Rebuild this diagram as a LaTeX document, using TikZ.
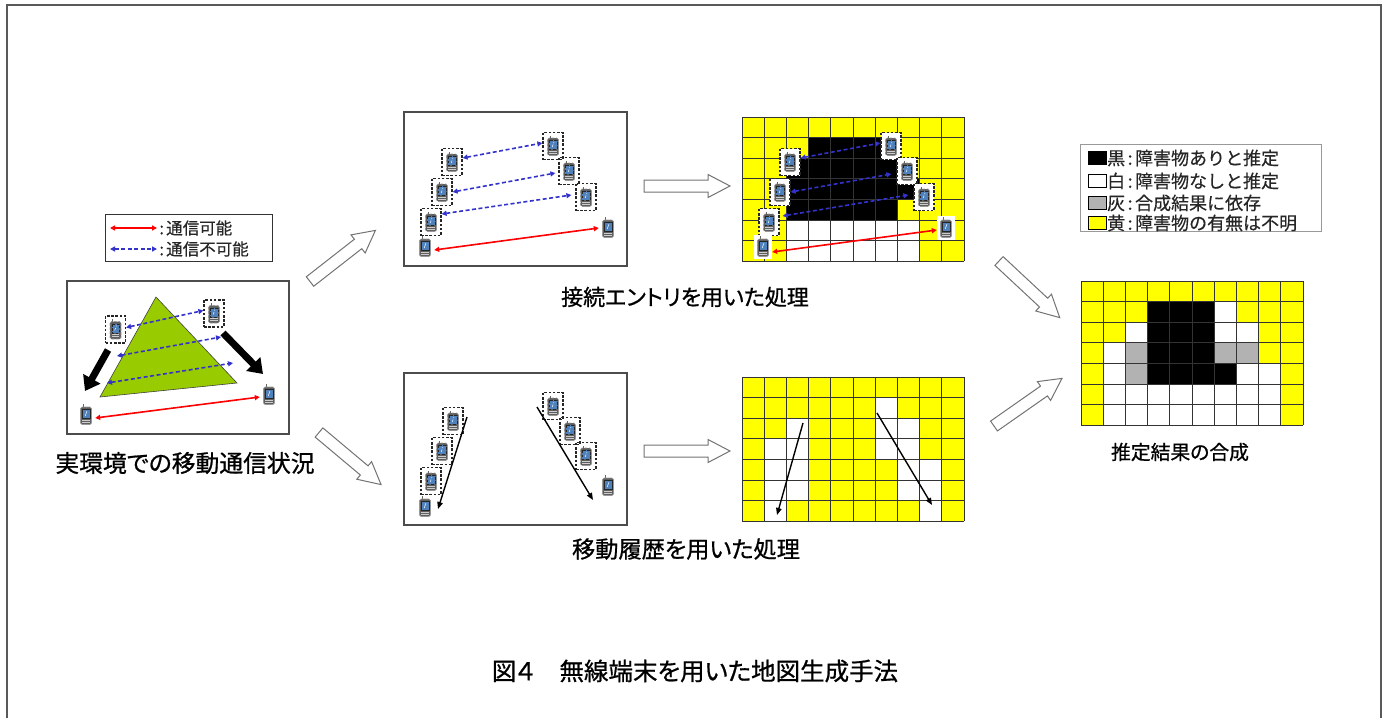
\documentclass[tikz,border=0pt]{standalone}
\usepackage{fontspec}
\setmainfont{Noto Sans CJK JP}
\newfontfamily\capfont[RawFeature=+palt, FakeBold=0.8, AutoFakeBold=0.8]{Noto Sans CJK JP}
\newfontfamily\legfont[FakeBold=0.4, AutoFakeBold=0.4]{Noto Sans CJK JP}
\usetikzlibrary{arrows.meta}

\definecolor{cY}{RGB}{255,255,0}
\definecolor{cB}{RGB}{0,0,0}
\definecolor{cW}{RGB}{255,255,255}
\definecolor{cG}{RGB}{178,178,178}
\definecolor{obst}{RGB}{153,204,0}
\definecolor{ncblue}{RGB}{51,51,204}
\definecolor{cred}{RGB}{255,0,0}
\definecolor{scr}{RGB}{79,129,189}
\definecolor{pbody}{RGB}{95,95,95}

% occupancy map: origin x, origin y, rows of cell codes (Y/B/W/G)
\newcommand\mapgrid[3]{%
  \foreach \cells [count=\rw from 0] in {#3} {%
    \foreach \cl [count=\kk from 0] in \cells {%
      \fill[fill=c\cl] ({#1+\kk*22.2},{#2+\rw*20.6}) rectangle ++(22.2,20.6);
    }%
  }%
  \foreach \kk in {0,...,10} \draw[gridline] ({#1+\kk*22.2},#2) -- ++(0,144.2);
  \foreach \rw in {0,...,7} \draw[gridline] (#1,{#2+\rw*20.6}) -- ++(222,0);
}

% hollow block arrow: tail x, tail y, angle, length
\newcommand\blockarrow[4]{%
  \begin{scope}[shift={(#1,#2)},rotate=#3]
    \draw[hollow] (0,-6) -- ({#4-22},-6) -- ({#4-22},-11.5) -- (#4,0)
      -- ({#4-22},11.5) -- ({#4-22},6) -- (0,6) -- cycle;
  \end{scope}%
}

\newcommand\lcolon{\makebox[0.55em]{:}}

\tikzset{
  phoneicon/.style={path picture={%
    \begin{scope}[shift={(path picture bounding box.center)}]
      \draw[black!60, line width=0.7pt] (-3,-7.5) -- (-3,-11);
      \filldraw[draw=black!40, fill=pbody, line width=0.6pt, rounded corners=1.5pt] (-5.5,-8) rectangle (5.5,9.5);
      \filldraw[draw=black!85, fill=scr, line width=0.4pt] (-3.8,-5.6) rectangle (3.8,3.2);
      \draw[white, line width=0.5pt] (-0.8,1) -- (0.9,-3.8);
      \fill[black!20] (-3.8,4.8) rectangle (3.8,5.8);
      \fill[black!20] (-3.8,6.8) rectangle (3.8,7.8);
    \end{scope}}},
  ph/.style={rectangle, inner sep=0pt, minimum width=20pt, minimum height=27pt, phoneicon},
  phd/.style={ph, draw=black!85, line width=1.2pt, dash pattern=on 2.6pt off 1.6pt},
  php/.style={ph, minimum width=18pt, minimum height=24pt},
  onmap/.style={fill=white},
  nocomm/.style={{Triangle[length=5pt,width=5pt]}-{Triangle[length=5pt,width=5pt]},
    draw=ncblue, line width=1.6pt, dash pattern=on 4pt off 2.5pt},
  comm/.style={{Triangle[length=5pt,width=5pt]}-{Triangle[length=5pt,width=5pt]},
    draw=cred, line width=1.6pt},
  movearrow/.style={-{Triangle[length=7pt,width=5.5pt]}, draw=black, line width=1.4pt},
  heavyarrow/.style={-{Triangle[length=14pt,width=19pt]}, draw=black, line width=7pt},
  panel/.style={draw=black!70, line width=1.1pt},
  outerframe/.style={draw=black!65, line width=1.5pt},
  gridline/.style={draw=black!80, line width=0.9pt},
  hollow/.style={draw=black!55, fill=white, line width=1pt, line join=miter},
  legbox/.style={draw=black!80, line width=1pt},
  legbox2/.style={draw=black!40, line width=1pt},
  swatch/.style={rectangle, draw=black, line width=0.8pt, inner sep=0pt, minimum width=18pt, minimum height=13pt},
  legtext/.style={inner sep=0pt, text=black!85, font=\legfont\fontsize{16.5}{18}\selectfont},
  legtextb/.style={inner sep=0pt, text=black!85, font=\legfont\fontsize{18}{20}\selectfont},
  captext/.style={inner sep=0pt, font=\capfont\fontsize{#1}{#1}\selectfont},
}

\begin{document}
\begin{tikzpicture}[x=1pt,y=-1pt]
\useasboundingbox (0,0) rectangle (1387,718);

% outer frame (open at the bottom)
\draw[outerframe] (7,718) -- (7,5) -- (1381,5) -- (1381,718);

% ---------- legend of links ----------
\draw[legbox] (105,214) rectangle (272,261);
\coordinate (lg1a) at (110,228); \coordinate (lg1b) at (157,228);
\coordinate (lg2a) at (110,249); \coordinate (lg2b) at (157,249);
\draw[comm] (lg1a) -- (lg1b);
\draw[nocomm] (lg2a) -- (lg2b);
\node[legtext, anchor=west] (lgt1) at (157,228) {\lcolon 通信可能};
\node[legtext, anchor=west] (lgt2) at (157,249) {\lcolon 通信不可能};

% ---------- real environment ----------
\draw[panel] (67,281) rectangle (289,434);
\filldraw[fill=obst, draw=black!75, line width=0.6pt] (156,297) -- (237,383) -- (100,397) -- cycle;
\node[phd] (s1) at (115.5,329.5) {};
\node[phd] (s2) at (214,313.5) {};
\node[php] (s3) at (269,395) {};
\node[php] (s4) at (86,415) {};
\coordinate (s1b) at (117,356); \coordinate (s2b) at (221,337);
\coordinate (s1c) at (107,383); \coordinate (s2c) at (233,363);
\draw[nocomm] ([yshift=2pt]s1.east) -- ([yshift=3pt]s2.west);
\draw[nocomm] (s1b) -- (s2b);
\draw[nocomm] (s1c) -- (s2c);
\draw[comm] ([yshift=-3pt]s4.east) -- ([yshift=-2pt]s3.west);
\coordinate (t1s) at (108,350); \coordinate (t1e) at (85,391);
\coordinate (t2s) at (223,333); \coordinate (t2e) at (263,374);
\draw[heavyarrow] (t1s) -- (t1e);
\draw[heavyarrow] (t2s) -- (t2e);
\node[captext=23.8] (cap1) at (185,463) {実環境での移動通信状況};

% ---------- connection entries ----------
\draw[panel] (404,112) rectangle (627,266);
\node[phd] (b2p1) at (452,162) {};
\node[phd] (b2p2) at (442,192) {};
\node[phd] (b2p3) at (431,222) {};
\node[php] (b2p4) at (425,247) {};
\node[phd] (b2q1) at (553,146) {};
\node[phd] (b2q2) at (569,171) {};
\node[phd] (b2q3) at (586,197) {};
\node[php] (b2q4) at (608,228) {};
\draw[nocomm] ([yshift=4pt]b2p1.east) -- ([yshift=3pt]b2q1.west);
\draw[nocomm] (b2p2.east) -- ([xshift=-3pt,yshift=-2pt]b2q2.west);
\draw[nocomm] ([yshift=8pt]b2p3.east) -- ([xshift=-4pt,yshift=2pt]b2q3.west);
\draw[comm] ([yshift=-3pt]b2p4.east) -- (b2q4.west);
\node[captext=22] (cap2) at (685,297) {接続エントリを用いた処理};

\mapgrid{742}{117}{{Y,Y,Y,Y,Y,Y,Y,Y,Y,Y},{Y,Y,Y,B,B,B,B,Y,Y,Y},{Y,Y,B,B,B,B,B,Y,Y,Y},{Y,Y,B,B,B,B,B,B,Y,Y},{Y,Y,B,B,B,B,B,Y,Y,Y},{Y,Y,W,W,W,W,W,W,Y,Y},{Y,Y,W,W,W,W,W,W,Y,Y}}
\node[phd, onmap] (g1p1) at (790,162) {};
\node[phd, onmap] (g1p2) at (780,192) {};
\node[phd, onmap] (g1p3) at (769,222) {};
\node[php, onmap] (g1p4) at (763,247) {};
\node[phd, onmap] (g1q1) at (891,146) {};
\node[phd, onmap] (g1q2) at (907,171) {};
\node[phd, onmap] (g1q3) at (924,197) {};
\node[php, onmap] (g1q4) at (946,228) {};
\draw[nocomm] ([yshift=4pt]g1p1.east) -- ([yshift=3pt]g1q1.west);
\draw[nocomm] (g1p2.east) -- ([xshift=-5pt,yshift=-3pt]g1q2.west);
\draw[nocomm] ([xshift=3pt,yshift=6pt]g1p3.east) -- ([xshift=-5pt,yshift=2pt]g1q3.west);
\draw[comm] ([yshift=-5pt]g1p4.east) -- ([yshift=-2pt]g1q4.west);

% ---------- movement history ----------
\draw[panel] (404,373) rectangle (627,525);
\node[phd] (b3a1) at (453,421) {};
\node[phd] (b3a2) at (442,451) {};
\node[phd] (b3a3) at (431,481) {};
\node[php] (b3a4) at (425,507) {};
\node[phd] (b3b1) at (553,406) {};
\node[phd] (b3b2) at (570,431) {};
\node[phd] (b3b3) at (586,456) {};
\node[php] (b3b4) at (608,486) {};
\coordinate (m1s) at (467,417); \coordinate (m1e) at (438,509);
\coordinate (m2s) at (537,407); \coordinate (m2e) at (593,500);
\draw[movearrow] (m1s) -- (m1e);
\draw[movearrow] (m2s) -- (m2e);
\node[captext=23.2] (cap3) at (686,549) {移動履歴を用いた処理};

\mapgrid{742}{377}{{Y,Y,Y,Y,Y,Y,Y,Y,Y,Y},{Y,Y,Y,Y,Y,Y,W,Y,Y,Y},{Y,Y,W,Y,Y,Y,W,W,Y,Y},{Y,W,W,Y,Y,Y,W,W,Y,Y},{Y,W,W,Y,Y,Y,Y,W,W,Y},{Y,W,W,Y,Y,Y,Y,W,W,Y},{Y,W,Y,Y,Y,Y,Y,Y,W,Y}}
\coordinate (g2m1s) at (803,423); \coordinate (g2m1e) at (777,515);
\coordinate (g2m2s) at (877,413); \coordinate (g2m2e) at (932,505);
\draw[movearrow] (g2m1s) -- (g2m1e);
\draw[movearrow] (g2m2s) -- (g2m2e);

% ---------- combined estimate ----------
\mapgrid{1081}{281}{{Y,Y,Y,Y,Y,Y,Y,Y,Y,Y},{Y,Y,Y,B,B,B,W,Y,Y,Y},{Y,Y,W,B,B,B,W,W,Y,Y},{Y,W,G,B,B,B,G,G,Y,Y},{Y,W,G,B,B,B,B,W,W,Y},{Y,W,W,W,W,W,W,W,W,Y},{Y,W,W,W,W,W,W,W,W,Y}}
\node[captext=19.8] (cap4) at (1180,452) {推定結果の合成};

% legend of cell colours
\draw[legbox2] (1080,144) rectangle (1321,231);
\node[swatch, fill=cB] (swB) at (1097,158) {};
\node[swatch, fill=cW] (swW) at (1097,181) {};
\node[swatch, fill=cG] (swG) at (1097,203) {};
\node[swatch, fill=cY] (swY) at (1097,223) {};
\node[legtextb, anchor=west] (lb) at (1107,158) {黒\lcolon 障害物ありと推定};
\node[legtextb, anchor=west] (lw) at (1107,181) {白\lcolon 障害物なしと推定};
\node[legtextb, anchor=west] (lg) at (1107,203) {灰\lcolon 合成結果に依存};
\node[legtextb, anchor=west] (ly) at (1107,223) {黄\lcolon 障害物の有無は不明};

% ---------- processing flow ----------
\blockarrow{310}{281.5}{38}{83}
\blockarrow{319}{432.5}{-40}{81}
\blockarrow{644}{186}{0}{86}
\blockarrow{644}{451}{0}{86}
\blockarrow{999}{261}{-43}{83}
\blockarrow{994}{426}{35}{83}

\node[captext=24.5] (title) at (695,671) {図４　無線端末を用いた地図生成手法};
\end{tikzpicture}
\end{document}
